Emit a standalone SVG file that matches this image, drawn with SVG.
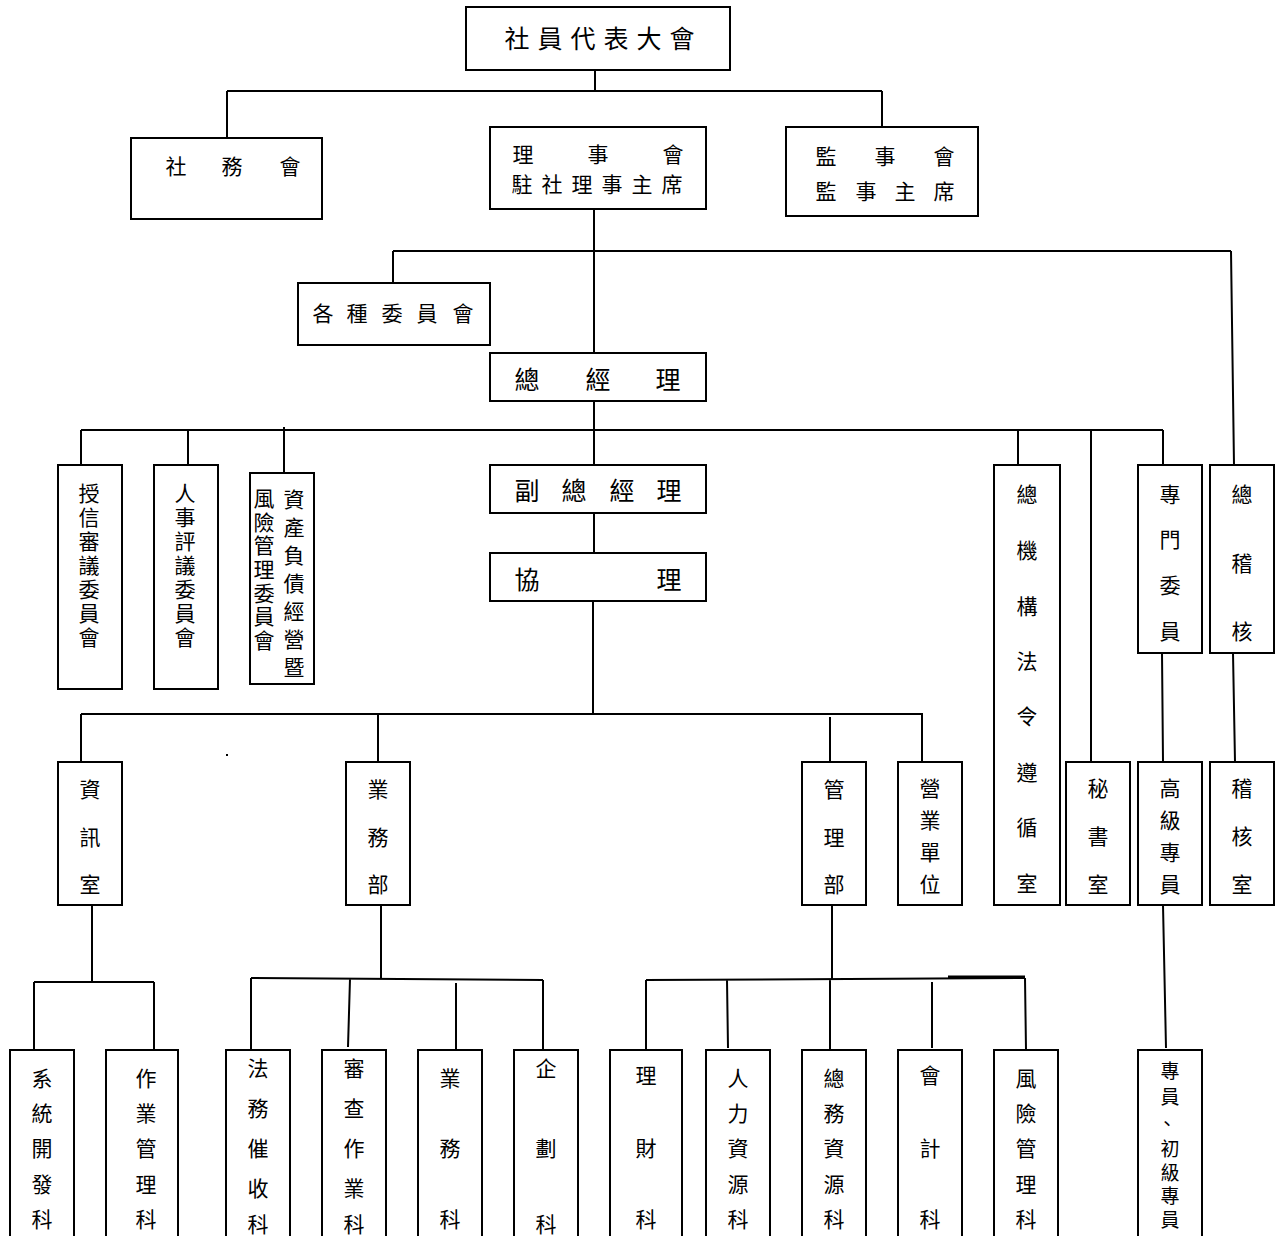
<svg xmlns="http://www.w3.org/2000/svg" width="1279" height="1236" viewBox="0 0 1279 1236">
<style>
.b{fill:#fff;stroke:#000;stroke-width:2}
.c{fill:none;stroke:#000;stroke-width:2}
text{font-family:"Noto Sans CJK TC","Noto Sans CJK SC",sans-serif;font-size:21px;fill:#000;text-anchor:middle;dominant-baseline:central}
.t{font-size:25px}
.s{font-size:19px}
.v{writing-mode:vertical-rl;text-anchor:start}
</style>
<rect width="1279" height="1236" fill="#fff"/>
<g id="connectors">
<path class="c" d="M595 70V91M227 91H882M227 91V138M882 91V127"/>
<path class="c" d="M594 209V353M393 251H1231M393 251V283M1231 251L1234 465"/>
<path class="c" d="M594 401V465M81 430H1163M81 430V465M188 430V465M284 427V473M1018 430V465M1091 430V762M1163 430V465"/>
<path class="c" d="M594 513V553M593 601V714M81 714H923M81 714V762M378 714V762M830 717V762M922 714V762"/>
<path class="c" d="M1162 653L1163 762M1233 653L1235 762M1163 905L1166 1048"/>
<path class="c" d="M92 905V982M34 982H154M34 982V1050M154 982V1050"/>
<path class="c" d="M381 905V978M251 978L543 980M251 978V1050M350 979L348 1047M456 983V1050M543 980V1050"/>
<path class="c" d="M832 905V980M646 980L1025 978M646 980V1051M727 980L728 1048M830 980V1050M932 982V1048M1025 978L1026 1050"/>
<path d="M948 977H1025" stroke="#000" stroke-width="3"/>
<rect x="226" y="754" width="2" height="2" fill="#000"/>
</g>
<g id="n1"><rect class="b" x="466" y="7" width="264" height="63"/><text class="t" y="37"><tspan x="517">社</tspan><tspan x="550">員</tspan><tspan x="583">代</tspan><tspan x="616">表</tspan><tspan x="649">大</tspan><tspan x="682">會</tspan></text></g>
<g id="n2"><rect class="b" x="131" y="138" width="191" height="81"/><text y="165"><tspan x="176">社</tspan><tspan x="232">務</tspan><tspan x="290">會</tspan></text></g>
<g id="n3"><rect class="b" x="490" y="127" width="216" height="82"/><text y="153"><tspan x="523">理</tspan><tspan x="598">事</tspan><tspan x="673">會</tspan></text><text y="183"><tspan x="522">駐</tspan><tspan x="552">社</tspan><tspan x="582">理</tspan><tspan x="612">事</tspan><tspan x="642">主</tspan><tspan x="672">席</tspan></text></g>
<g id="n4"><rect class="b" x="786" y="127" width="192" height="89"/><text y="155"><tspan x="826">監</tspan><tspan x="885">事</tspan><tspan x="944">會</tspan></text><text y="190"><tspan x="826">監</tspan><tspan x="866">事</tspan><tspan x="905">主</tspan><tspan x="944">席</tspan></text></g>
<g id="n5"><rect class="b" x="298" y="283" width="192" height="62"/><text y="312"><tspan x="323">各</tspan><tspan x="357">種</tspan><tspan x="392">委</tspan><tspan x="427">員</tspan><tspan x="463">會</tspan></text></g>
<g id="n6"><rect class="b" x="490" y="353" width="216" height="48"/><text class="t" y="378"><tspan x="527">總</tspan><tspan x="598">經</tspan><tspan x="668">理</tspan></text></g>
<g id="n7"><rect class="b" x="490" y="465" width="216" height="48"/><text class="t" y="489"><tspan x="527">副</tspan><tspan x="574">總</tspan><tspan x="622">經</tspan><tspan x="669">理</tspan></text></g>
<g id="n8"><rect class="b" x="490" y="553" width="216" height="48"/><text class="t" y="578"><tspan x="527">協</tspan><tspan x="669">理</tspan></text></g>
<g id="n9"><rect class="b" x="58" y="465" width="64" height="224"/><text class="v" x="89" y="482.5" letter-spacing="3">授信審議委員會</text></g>
<g id="n10"><rect class="b" x="154" y="465" width="64" height="224"/><text class="v" x="185" y="482.5" letter-spacing="3">人事評議委員會</text></g>
<g id="n11"><rect class="b" x="250" y="473" width="64" height="211"/><text class="v" x="294" y="488.5" letter-spacing="7">資產負債經營暨</text><text class="v" x="264" y="487.5" letter-spacing="2.7">風險管理委員會</text></g>
<g id="n12"><rect class="b" x="994" y="465" width="66" height="440"/><text><tspan x="1027" y="493">總</tspan><tspan x="1027" y="549">機</tspan><tspan x="1027" y="605">構</tspan><tspan x="1027" y="660">法</tspan><tspan x="1027" y="715">令</tspan><tspan x="1027" y="771">遵</tspan><tspan x="1027" y="826">循</tspan><tspan x="1027" y="882">室</tspan></text></g>
<g id="n13"><rect class="b" x="1138" y="465" width="64" height="188"/><text><tspan x="1170" y="493">專</tspan><tspan x="1170" y="538">門</tspan><tspan x="1170" y="584">委</tspan><tspan x="1170" y="630">員</tspan></text></g>
<g id="n14"><rect class="b" x="1210" y="465" width="64" height="188"/><text><tspan x="1242" y="493">總</tspan><tspan x="1242" y="562">稽</tspan><tspan x="1242" y="630">核</tspan></text></g>
<g id="n15"><rect class="b" x="58" y="762" width="64" height="143"/><text><tspan x="90" y="788">資</tspan><tspan x="90" y="836">訊</tspan><tspan x="90" y="883">室</tspan></text></g>
<g id="n16"><rect class="b" x="346" y="762" width="64" height="143"/><text><tspan x="378" y="788">業</tspan><tspan x="378" y="836">務</tspan><tspan x="378" y="883">部</tspan></text></g>
<g id="n17"><rect class="b" x="802" y="762" width="64" height="143"/><text><tspan x="834" y="788">管</tspan><tspan x="834" y="836">理</tspan><tspan x="834" y="883">部</tspan></text></g>
<g id="n18"><rect class="b" x="898" y="762" width="64" height="143"/><text><tspan x="930" y="787">營</tspan><tspan x="930" y="819">業</tspan><tspan x="930" y="851">單</tspan><tspan x="930" y="883">位</tspan></text></g>
<g id="n19"><rect class="b" x="1066" y="762" width="64" height="143"/><text><tspan x="1098" y="787">秘</tspan><tspan x="1098" y="835">書</tspan><tspan x="1098" y="883">室</tspan></text></g>
<g id="n20"><rect class="b" x="1138" y="762" width="64" height="143"/><text><tspan x="1170" y="787">高</tspan><tspan x="1170" y="819">級</tspan><tspan x="1170" y="851">專</tspan><tspan x="1170" y="883">員</tspan></text></g>
<g id="n21"><rect class="b" x="1210" y="762" width="64" height="143"/><text><tspan x="1242" y="787">稽</tspan><tspan x="1242" y="835">核</tspan><tspan x="1242" y="883">室</tspan></text></g>
<g id="n22"><rect class="b" x="10" y="1050" width="64" height="200"/><text><tspan x="42" y="1077">系</tspan><tspan x="42" y="1112">統</tspan><tspan x="42" y="1147">開</tspan><tspan x="42" y="1183">發</tspan><tspan x="42" y="1218">科</tspan></text></g>
<g id="n23"><rect class="b" x="106" y="1050" width="72" height="200"/><text><tspan x="146" y="1077">作</tspan><tspan x="146" y="1112">業</tspan><tspan x="146" y="1147">管</tspan><tspan x="146" y="1183">理</tspan><tspan x="146" y="1218">科</tspan></text></g>
<g id="n24"><rect class="b" x="226" y="1050" width="64" height="200"/><text><tspan x="258" y="1067">法</tspan><tspan x="258" y="1107">務</tspan><tspan x="258" y="1147">催</tspan><tspan x="258" y="1187">收</tspan><tspan x="258" y="1223">科</tspan></text></g>
<g id="n25"><rect class="b" x="322" y="1050" width="64" height="200"/><text><tspan x="354" y="1067">審</tspan><tspan x="354" y="1107">查</tspan><tspan x="354" y="1147">作</tspan><tspan x="354" y="1187">業</tspan><tspan x="354" y="1223">科</tspan></text></g>
<g id="n26"><rect class="b" x="418" y="1050" width="64" height="200"/><text><tspan x="450" y="1077">業</tspan><tspan x="450" y="1147">務</tspan><tspan x="450" y="1218">科</tspan></text></g>
<g id="n27"><rect class="b" x="514" y="1050" width="64" height="200"/><text><tspan x="546" y="1067">企</tspan><tspan x="546" y="1147">劃</tspan><tspan x="546" y="1223">科</tspan></text></g>
<g id="n28"><rect class="b" x="610" y="1050" width="72" height="200"/><text><tspan x="646" y="1074">理</tspan><tspan x="646" y="1147">財</tspan><tspan x="646" y="1218">科</tspan></text></g>
<g id="n29"><rect class="b" x="706" y="1050" width="64" height="200"/><text><tspan x="738" y="1077">人</tspan><tspan x="738" y="1112">力</tspan><tspan x="738" y="1147">資</tspan><tspan x="738" y="1183">源</tspan><tspan x="738" y="1218">科</tspan></text></g>
<g id="n30"><rect class="b" x="802" y="1050" width="64" height="200"/><text><tspan x="834" y="1077">總</tspan><tspan x="834" y="1112">務</tspan><tspan x="834" y="1147">資</tspan><tspan x="834" y="1183">源</tspan><tspan x="834" y="1218">科</tspan></text></g>
<g id="n31"><rect class="b" x="898" y="1050" width="64" height="200"/><text><tspan x="930" y="1074">會</tspan><tspan x="930" y="1147">計</tspan><tspan x="930" y="1218">科</tspan></text></g>
<g id="n32"><rect class="b" x="994" y="1050" width="64" height="200"/><text><tspan x="1026" y="1077">風</tspan><tspan x="1026" y="1112">險</tspan><tspan x="1026" y="1147">管</tspan><tspan x="1026" y="1183">理</tspan><tspan x="1026" y="1218">科</tspan></text></g>
<g id="n33"><rect class="b" x="1138" y="1050" width="64" height="200"/><text class="s v" x="1170" y="1061.5" letter-spacing="7">專員</text><text class="s" x="1167" y="1122">、</text><text class="s v" x="1170" y="1139.5" letter-spacing="4.5">初級專員</text></g>
</svg>
